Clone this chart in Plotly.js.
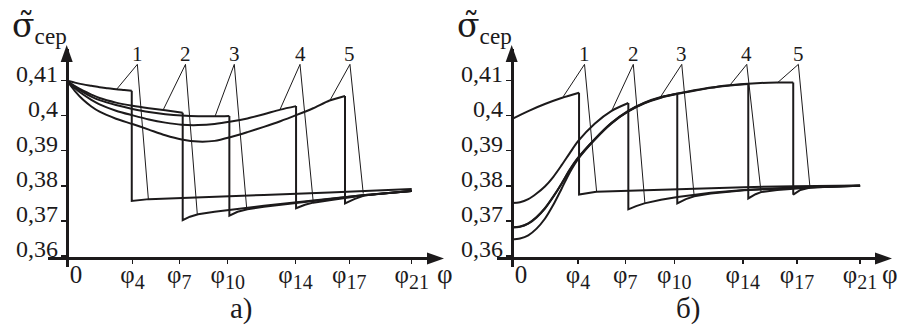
<!DOCTYPE html>
<html><head><meta charset="utf-8">
<script src="https://cdn.plot.ly/plotly-3.0.1.min.js"></script>
<style>html,body{margin:0;padding:0;background:#fff;}#chart{width:905px;height:327px;}</style>
</head><body><div id="chart"></div>
<script>
// ---------- data ----------
const phiTickVals = [0, 4, 6.85, 9.8, 13.93, 17.2, 21];
const phiTickSubs = ['', '4', '7', '10', '14', '17', '21'];
const sigmaTickVals = [0.36, 0.37, 0.38, 0.39, 0.40, 0.41];
const sigmaTickText = ['0,36', '0,37', '0,38', '0,39', '0,4', '0,41'];
const curveLabels = ['1', '2', '3', '4', '5'];

// panel а)
const a1UpX = [0, 0.5, 1, 1.5, 2, 2.5, 3, 3.5, 3.96];
const a1UpY = [0.4100, 0.4094, 0.4089, 0.4085, 0.4081, 0.4078, 0.4075, 0.4073, 0.4071];
const a1LoX = [3.96, 5, 8, 12, 16, 21];
const a1LoY = [0.3757, 0.3762, 0.3768, 0.3774, 0.3781, 0.3791];
const a2UpX = [0, 0.5, 1, 1.5, 2, 3, 4, 5, 6, 7.06];
const a2UpY = [0.4100, 0.4084, 0.4071, 0.4060, 0.4050, 0.4037, 0.4028, 0.4021, 0.4015, 0.4008];
const a2LoX = [7.06, 7.5, 8, 9, 10, 12, 14, 16, 18, 21];
const a2LoY = [0.3702, 0.3712, 0.3719, 0.3726, 0.3732, 0.3743, 0.3753, 0.3763, 0.3773, 0.3785];
const a3UpX = [0, 0.5, 1, 1.5, 2, 3, 4, 5, 6, 7, 8, 9, 9.9];
const a3UpY = [0.4100, 0.4082, 0.4067, 0.4054, 0.4044, 0.4030, 0.4019, 0.4010, 0.4004, 0.4000, 0.3998, 0.3998, 0.3999];
const a3LoX = [9.9, 10.4, 11, 12, 14, 16, 18, 21];
const a3LoY = [0.3715, 0.3726, 0.3733, 0.3740, 0.3751, 0.3762, 0.3773, 0.3785];
const a4UpX = [0, 0.5, 1, 1.5, 2, 3, 4, 5, 6, 7, 8, 9, 10, 11, 12, 13, 13.96];
const a4UpY = [0.4100, 0.4078, 0.4060, 0.4045, 0.4032, 0.4014, 0.4001, 0.3989, 0.3980, 0.3974, 0.3973, 0.3976, 0.3983, 0.3992, 0.4004, 0.4017, 0.4027];
const a4LoX = [13.96, 14.5, 15, 16, 18, 21];
const a4LoY = [0.3736, 0.3746, 0.3752, 0.3759, 0.3772, 0.3785];
const a5UpX = [0, 0.5, 1, 1.5, 2, 3, 4, 5, 6, 7, 8, 9, 10, 11, 12, 13, 14, 15, 16, 16.94];
const a5UpY = [0.4100, 0.4070, 0.4045, 0.4026, 0.4011, 0.3991, 0.3976, 0.3960, 0.3944, 0.3932, 0.3926, 0.3928, 0.3939, 0.3953, 0.3968, 0.3984, 0.4002, 0.4021, 0.4043, 0.4056];
const a5LoX = [16.94, 17.5, 18.1, 19, 21];
const a5LoY = [0.3750, 0.3762, 0.3772, 0.3777, 0.3786];
const aLeadTopX = [4.3, 7.23, 10.2, 14.2, 17.24];
const aLeadUpX = [3.04, 5.88, 9.03, 12.98, 16.03];
const aLeadUpY = [0.4075, 0.4017, 0.3998, 0.4017, 0.4044];
const aLeadLoX = [4.97, 7.95, 10.96, 15.01, 18.05];
const aLeadLoY = [0.3762, 0.3718, 0.3733, 0.3752, 0.3778];

// panel б)
const b1UpX = [0, 1, 2, 3, 4.06];
const b1UpY = [0.3990, 0.4013, 0.4033, 0.4050, 0.4065];
const b1LoX = [4.06, 5.1, 7, 10, 14, 17, 21];
const b1LoY = [0.3775, 0.3783, 0.3786, 0.3791, 0.3796, 0.3799, 0.3801];
const b2UpX = [0, 0.5, 1, 1.5, 2, 2.5, 3, 3.5, 4, 5, 6, 7.03];
const b2UpY = [0.3751, 0.3753, 0.3762, 0.3778, 0.3798, 0.3825, 0.3858, 0.3893, 0.3927, 0.3977, 0.4013, 0.4036];
const b2LoX = [7.03, 7.5, 8, 9, 10, 12, 14, 17, 21];
const b2LoY = [0.3733, 0.3742, 0.3750, 0.3760, 0.3768, 0.3780, 0.3788, 0.3795, 0.3800];
const b3UpX = [0, 0.5, 1, 1.5, 2, 2.5, 3, 3.5, 4, 5, 6, 7, 8, 9, 9.98];
const b3UpY = [0.3681, 0.3683, 0.3692, 0.3710, 0.3735, 0.3768, 0.3805, 0.3845, 0.3879, 0.3932, 0.3978, 0.4012, 0.4036, 0.4052, 0.4062];
const b3LoX = [9.98, 10.5, 11, 12, 14, 17, 21];
const b3LoY = [0.3750, 0.3762, 0.3770, 0.3778, 0.3787, 0.3794, 0.3800];
const b4UpX = [0, 0.5, 1, 1.5, 2, 2.5, 3, 3.5, 4, 5, 6, 7, 8, 9, 10, 11, 12, 13, 14.26];
const b4UpY = [0.3682, 0.3684, 0.3693, 0.3711, 0.3736, 0.3769, 0.3806, 0.3846, 0.3880, 0.3933, 0.3979, 0.4013, 0.4037, 0.4053, 0.4063, 0.4072, 0.4080, 0.4086, 0.4090];
const b4LoX = [14.26, 14.7, 15.03, 16, 18, 21];
const b4LoY = [0.3764, 0.3776, 0.3782, 0.3788, 0.3795, 0.3800];
const b5UpX = [0, 0.5, 1, 1.5, 2, 2.5, 3, 3.5, 4, 5, 6, 7, 8, 9, 10, 11, 12, 13, 14, 15, 16, 16.97];
const b5UpY = [0.3647, 0.3650, 0.3659, 0.3678, 0.3706, 0.3745, 0.3791, 0.3838, 0.3876, 0.3931, 0.3977, 0.4011, 0.4035, 0.4051, 0.4062, 0.4071, 0.4079, 0.4085, 0.4090, 0.4093, 0.4094, 0.4094];
const b5LoX = [16.97, 17.4, 18, 19, 21];
const b5LoY = [0.3775, 0.3788, 0.3795, 0.3799, 0.3800];
const bLeadTopX = [4.39, 7.33, 10.25, 14.17, 17.28];
const bLeadUpX = [3.05, 6.03, 8.94, 13.16, 16.03];
const bLeadUpY = [0.4050, 0.4014, 0.4051, 0.4087, 0.4094];
const bLeadLoX = [5.12, 8.03, 11.0, 15.03, 17.98];
const bLeadLoY = [0.3783, 0.3750, 0.3770, 0.3782, 0.3795];

// ---------- layout constants ----------
const W = 905, H = 327;
const FONT = 'Liberation Serif';
const INK = '#1c1a1b';
const AXIS_Y = 0.3593;       // where the φ axis crosses
const LEAD_TOP_Y = 0.4146;   // apex of the leader lines
const LABEL_Y = 0.4176;      // curve number labels
const yRange = [0.35695, 0.41 + (80.5 - 49) / 3510];
const yDom = [1 - 266.7 / H, 1 - 49 / H];
const panels = [
  {xa: 'x', ya: 'y', xDom: [48.3 / W, 440 / W], xRange: [-1.12, (440 - 66.7) / 16.43],
   up: [[a1UpX, a1UpY], [a2UpX, a2UpY], [a3UpX, a3UpY], [a4UpX, a4UpY], [a5UpX, a5UpY]],
   lo: [[a1LoX, a1LoY], [a2LoX, a2LoY], [a3LoX, a3LoY], [a4LoX, a4LoY], [a5LoX, a5LoY]],
   lead: [aLeadTopX, aLeadUpX, aLeadUpY, aLeadLoX, aLeadLoY], tag: 'а)', phiShift: 23},
  {xa: 'x2', ya: 'y2', xDom: [496.7 / W, 888 / W], xRange: [-0.904, (888 - 511.7) / 16.59],
   up: [[b1UpX, b1UpY], [b2UpX, b2UpY], [b3UpX, b3UpY], [b4UpX, b4UpY], [b5UpX, b5UpY]],
   lo: [[b1LoX, b1LoY], [b2LoX, b2LoY], [b3LoX, b3LoY], [b4LoX, b4LoY], [b5LoX, b5LoY]],
   lead: [bLeadTopX, bLeadUpX, bLeadUpY, bLeadLoX, bLeadLoY], tag: 'б)', phiShift: 20}
];

const phiTickText = phiTickSubs.map(s => s === '' ? '\u2002\u00a00' :
  'φ<sub><span style="font-size:20px">' + s + '</span></sub>');

const traces = [], shapes = [], annotations = [];
const layout = {
  width: W, height: H, margin: {l: 0, r: 0, t: 0, b: 0},
  paper_bgcolor: '#fff', plot_bgcolor: 'rgba(0,0,0,0)',
  showlegend: false, hovermode: false, font: {family: FONT, color: INK}
};

panels.forEach((p, pi) => {
  const xPaper = v => p.xDom[0] + (v - p.xRange[0]) / (p.xRange[1] - p.xRange[0]) * (p.xDom[1] - p.xDom[0]);
  const yPaper = v => yDom[0] + (v - yRange[0]) / (yRange[1] - yRange[0]) * (yDom[1] - yDom[0]);
  const xAxisPos = yPaper(AXIS_Y);
  const yAxisPos = xPaper(0);
  const xName = pi === 0 ? 'xaxis' : 'xaxis2';
  const yName = pi === 0 ? 'yaxis' : 'yaxis2';
  layout[xName] = {
    domain: p.xDom, range: p.xRange, anchor: 'free', position: xAxisPos,
    showline: true, linewidth: 3, linecolor: INK, showgrid: false, zeroline: false,
    ticks: 'outside', ticklen: 4, tickwidth: 1.5, tickcolor: INK, ticklabelstandoff: -11,
    tickmode: 'array', tickvals: phiTickVals, ticktext: phiTickText,
    tickfont: {family: FONT, size: 25, color: INK}, fixedrange: true
  };
  layout[yName] = {
    domain: yDom, range: yRange, anchor: 'free', position: yAxisPos,
    showline: true, linewidth: 3, linecolor: INK, showgrid: false, zeroline: false,
    ticks: 'outside', ticklen: 5, tickwidth: 1.5, tickcolor: INK, ticklabelstandoff: -2,
    tickmode: 'array', tickvals: sigmaTickVals, ticktext: sigmaTickText,
    tickfont: {family: FONT, size: 24, color: INK}, ticklabelshift: -7, fixedrange: true
  };
  // curves
  p.up.forEach((u, i) => {
    const lo = p.lo[i];
    traces.push({x: u[0], y: u[1], xaxis: p.xa, yaxis: p.ya, mode: 'lines',
      line: {color: INK, width: 2, shape: 'spline', smoothing: 0.8}});
    traces.push({x: [u[0][u[0].length - 1]].concat(lo[0]), y: [u[1][u[1].length - 1]].concat(lo[1]),
      xaxis: p.xa, yaxis: p.ya, mode: 'lines', line: {color: INK, width: 2}});
  });
  // leader lines + numbers
  const [topX, upX, upY, loX, loY] = p.lead;
  topX.forEach((tx, i) => {
    traces.push({x: [upX[i], tx, loX[i]], y: [upY[i], LEAD_TOP_Y, loY[i]],
      xaxis: p.xa, yaxis: p.ya, mode: 'lines', line: {color: INK, width: 1}});
    annotations.push({xref: p.xa, yref: p.ya, x: tx, y: LABEL_Y, text: curveLabels[i],
      showarrow: false, xanchor: 'center', yanchor: 'middle',
      font: {family: FONT, size: 21, color: INK}});
  });
  // arrow heads
  shapes.push({type: 'path', xref: 'paper', yref: 'paper', xsizemode: 'pixel', ysizemode: 'pixel',
    xanchor: p.xDom[1], yanchor: xAxisPos, path: 'M4,0 L-13,6 L-13,-6 Z',
    fillcolor: INK, line: {width: 0}});
  shapes.push({type: 'path', xref: 'paper', yref: 'paper', xsizemode: 'pixel', ysizemode: 'pixel',
    xanchor: yAxisPos, yanchor: yDom[1], path: 'M0,4 L-6,-13 L6,-13 Z',
    fillcolor: INK, line: {width: 0}});
  // axis names and panel tag
  annotations.push({xref: p.xa, yref: 'paper', x: 21, xshift: p.phiShift, y: 1 - 274 / H,
    text: 'φ', showarrow: false, xanchor: 'left', yanchor: 'middle',
    font: {family: FONT, size: 27, color: INK}});
  annotations.push({xref: 'paper', yref: 'paper', x: yAxisPos - 57 / W, y: 1 - 4 / H,
    text: '<span style="font-family:DejaVu Serif">σ̃</span><sub>сер</sub>', showarrow: false,
    xanchor: 'left', yanchor: 'top',
    font: {family: FONT, size: 33, color: INK}});
  annotations.push({xref: 'paper', yref: 'paper', x: pi === 0 ? 241 / W : 688 / W, y: 1 - 308 / H,
    text: p.tag, showarrow: false, xanchor: 'center', yanchor: 'middle',
    font: {family: FONT, size: 29, color: INK}});
});

layout.shapes = shapes;
layout.annotations = annotations;
Plotly.newPlot('chart', traces, layout, {staticPlot: true, displayModeBar: false});
</script>
</body></html>
